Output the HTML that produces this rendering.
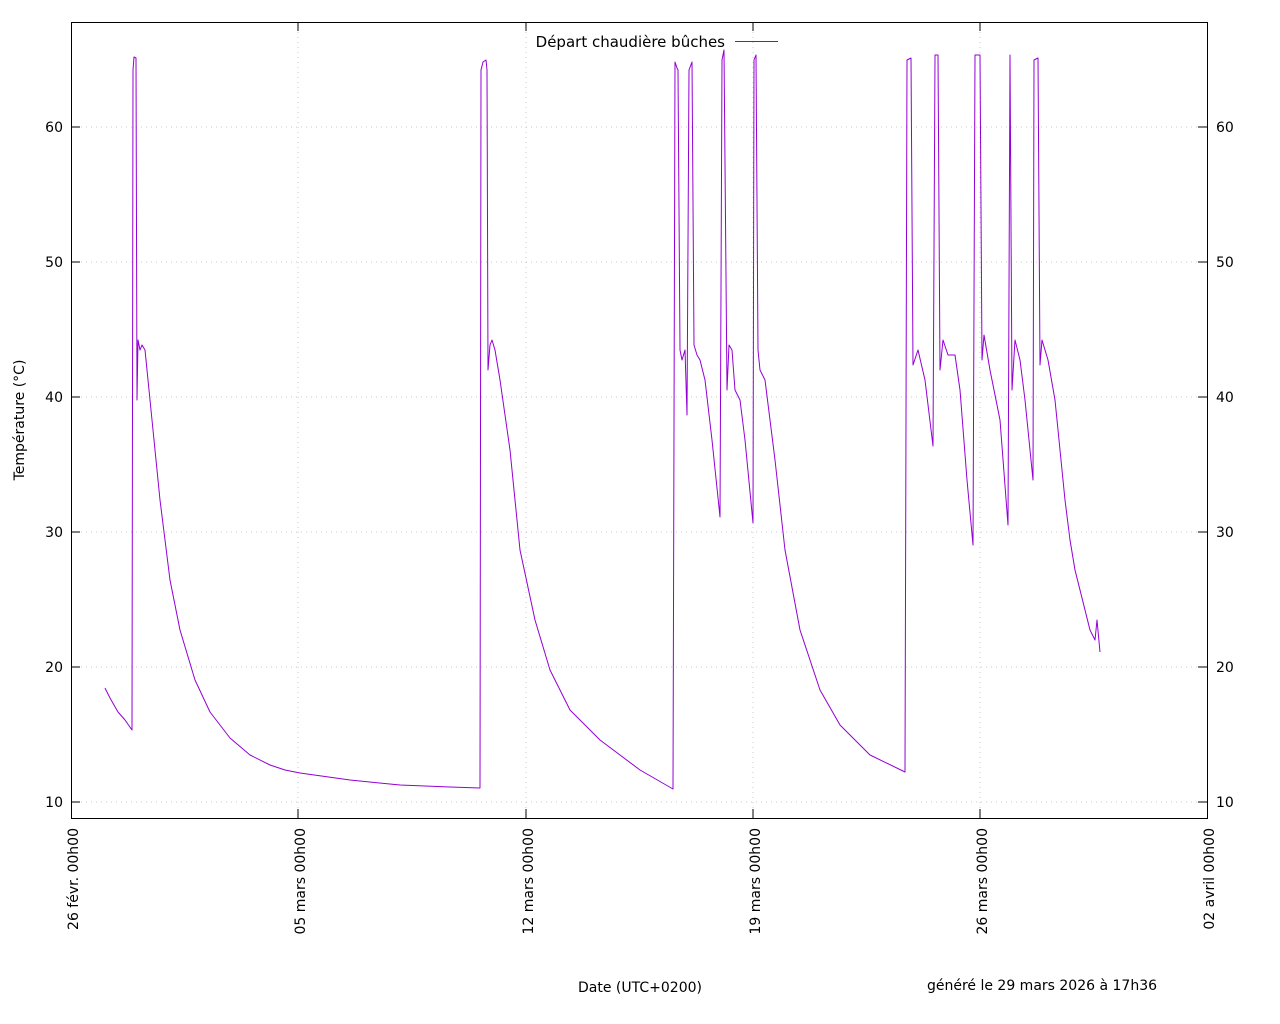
<!DOCTYPE html>
<html><head><meta charset="utf-8"><style>
html,body{margin:0;padding:0;background:#fff;}
svg{display:block;font-family:"DejaVu Sans","Liberation Sans",sans-serif;}
</style></head><body>
<svg width="1280" height="1024" viewBox="0 0 1280 1024" xmlns="http://www.w3.org/2000/svg">
<rect width="1280" height="1024" fill="#fff"/>
<g stroke="#c8c8c8" stroke-width="1" stroke-dasharray="1,4">
<line x1="71" y1="802" x2="1207" y2="802"/>
<line x1="71" y1="667" x2="1207" y2="667"/>
<line x1="71" y1="532" x2="1207" y2="532"/>
<line x1="71" y1="397" x2="1207" y2="397"/>
<line x1="71" y1="262" x2="1207" y2="262"/>
<line x1="71" y1="127" x2="1207" y2="127"/>
<line x1="298" y1="22" x2="298" y2="818"/>
<line x1="526" y1="22" x2="526" y2="818"/>
<line x1="753" y1="22" x2="753" y2="818"/>
<line x1="980" y1="22" x2="980" y2="818"/>
</g>
<rect x="71.5" y="22.5" width="1136" height="796" fill="none" stroke="#000" stroke-width="1"/>
<g stroke="#000" stroke-width="1">
<line x1="71" y1="802" x2="80" y2="802"/><line x1="1207" y1="802" x2="1198" y2="802"/>
<line x1="71" y1="667" x2="80" y2="667"/><line x1="1207" y1="667" x2="1198" y2="667"/>
<line x1="71" y1="532" x2="80" y2="532"/><line x1="1207" y1="532" x2="1198" y2="532"/>
<line x1="71" y1="397" x2="80" y2="397"/><line x1="1207" y1="397" x2="1198" y2="397"/>
<line x1="71" y1="262" x2="80" y2="262"/><line x1="1207" y1="262" x2="1198" y2="262"/>
<line x1="71" y1="127" x2="80" y2="127"/><line x1="1207" y1="127" x2="1198" y2="127"/>
<line x1="298" y1="818" x2="298" y2="809"/><line x1="298" y1="22" x2="298" y2="31"/>
<line x1="526" y1="818" x2="526" y2="809"/><line x1="526" y1="22" x2="526" y2="31"/>
<line x1="753" y1="818" x2="753" y2="809"/><line x1="753" y1="22" x2="753" y2="31"/>
<line x1="980" y1="818" x2="980" y2="809"/><line x1="980" y1="22" x2="980" y2="31"/>
</g>
<g font-size="14" fill="#000">
<g text-anchor="end">
<text x="63" y="807">10</text><text x="63" y="672">20</text><text x="63" y="537">30</text>
<text x="63" y="402">40</text><text x="63" y="267">50</text><text x="63" y="132">60</text>
</g>
<g>
<text x="1216" y="807">10</text><text x="1216" y="672">20</text><text x="1216" y="537">30</text>
<text x="1216" y="402">40</text><text x="1216" y="267">50</text><text x="1216" y="132">60</text>
</g>
<g text-anchor="end">
<text transform="translate(78,828) rotate(-90)">26 févr. 00h00</text>
<text transform="translate(305,828) rotate(-90)">05 mars 00h00</text>
<text transform="translate(533,828) rotate(-90)">12 mars 00h00</text>
<text transform="translate(760,828) rotate(-90)">19 mars 00h00</text>
<text transform="translate(987,828) rotate(-90)">26 mars 00h00</text>
<text transform="translate(1214,828) rotate(-90)">02 avril 00h00</text>
</g>
<text transform="translate(24,420) rotate(-90)" text-anchor="middle">Température (°C)</text>
<text x="640" y="992" text-anchor="middle">Date (UTC+0200)</text>
<text x="1042" y="990" text-anchor="middle">généré le 29 mars 2026 à 17h36</text>
<text x="725" y="47" text-anchor="end" font-size="15">Départ chaudière bûches</text>
</g>
<line x1="735" y1="41.5" x2="778" y2="41.5" stroke="#9400d3" stroke-width="1"/>
<polyline fill="none" stroke="#9400d3" stroke-width="1" stroke-linejoin="round" points="
105,688 110,698 118,712 125,720 132,730 133,70 134,57 136,58 137,400 138,340 140,350 142,345 145,350
150,400 160,500 170,580 180,630 195,680 210,712 230,738 250,755 270,765 285,770 300,773 350,780 400,785 450,787 480,788
481,70 483,62 486,60 487,70 488,370 490,345 492,340 495,350 500,380 510,450 520,550 535,620 550,670 570,710 600,740 640,770 673,789
675,62 677,68 678,70 680,350 682,360 685,350 687,415 689,70 692,62 694,345 697,355 700,360 705,380 712,440 720,517
722,60 724,50 727,390 729,345 732,350 735,390 740,400 745,440 753,523
754,60 756,55 758,350 760,370 765,380 775,460 785,550 800,630 820,690 840,725 870,755 905,772
907,60 911,58 913,365 918,350 925,380 933,446
935,55 938,55 940,370 943,340 948,355 955,355 960,390 967,480 973,545
975,55 980,55 982,360 984,335 990,370 1000,420 1008,525
1010,55 1012,390 1015,340 1020,360 1025,400 1033,480
1034,60 1038,58 1040,365 1042,340 1048,360 1055,400 1060,450 1065,500 1070,540 1075,570 1080,590 1085,610 1090,630 1095,640 1097,620 1100,652"/>
</svg>
</body></html>
